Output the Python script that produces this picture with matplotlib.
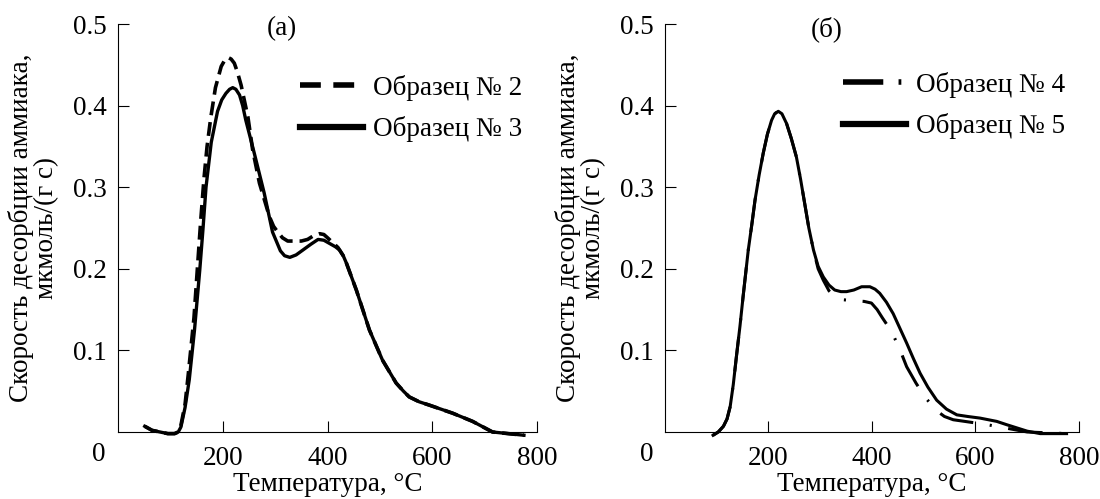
import matplotlib
matplotlib.use("Agg")
from matplotlib import pyplot as plt
from matplotlib.lines import Line2D

plt.rcParams['font.family'] = ['Liberation Serif', 'DejaVu Serif']
plt.rcParams['font.size'] = 19.5
plt.rcParams['lines.scale_dashes'] = False

# (а) samples 2 and 3
t2 = [51, 65, 80, 95, 108, 115, 120, 128, 134, 145, 152, 158, 164, 170, 177, 186, 197, 204, 210, 216,
      222, 228, 235, 248, 257, 270, 289, 297, 305, 314, 324, 350, 362, 372, 385, 393, 400, 410, 420,
      430, 436, 455, 480, 505, 531, 545, 556, 575, 594, 639, 677, 715, 775]
r2 = [0.007, 0.002, 0.0, -0.002, -0.002, 0.0, 0.008, 0.034, 0.070, 0.140, 0.205, 0.260, 0.310, 0.350,
      0.385, 0.422, 0.448, 0.456, 0.459, 0.457, 0.452, 0.441, 0.425, 0.386, 0.346, 0.305, 0.264, 0.252,
      0.245, 0.238, 0.234, 0.234, 0.236, 0.240, 0.243, 0.242, 0.238, 0.232, 0.226, 0.216, 0.207, 0.174,
      0.125, 0.088, 0.060, 0.050, 0.043, 0.037, 0.033, 0.023, 0.013, 0.000, -0.004]

t3 = [51, 65, 80, 95, 108, 115, 120, 128, 136, 146, 156, 162, 168, 178, 190, 198, 206, 213, 219, 225,
      232, 238, 244, 260, 279, 295, 310, 318, 328, 340, 353, 368, 382, 393, 404, 415, 423, 430, 436,
      455, 480, 505, 531, 545, 556, 575, 594, 639, 677, 715, 775]
r3 = [0.007, 0.002, 0.0, -0.002, -0.002, 0.0, 0.006, 0.030, 0.064, 0.125, 0.198, 0.247, 0.300, 0.355,
      0.393, 0.407, 0.415, 0.420, 0.422, 0.420, 0.413, 0.400, 0.382, 0.342, 0.293, 0.245, 0.222, 0.216,
      0.214, 0.217, 0.223, 0.230, 0.236, 0.235, 0.231, 0.227, 0.223, 0.216, 0.207, 0.174, 0.125, 0.088,
      0.060, 0.050, 0.043, 0.037, 0.033, 0.023, 0.013, 0.000, -0.004]

# (б) samples 4 and 5
t4 = [93, 103, 113, 120, 126, 132, 138, 145, 151, 161, 168, 174, 182, 190, 198, 206, 212, 219, 226,
      235, 244, 254, 262, 270, 278, 287, 296, 306, 317, 328, 345, 364, 385, 399, 410, 420, 438, 454,
      467, 485, 502, 525, 540, 557, 590, 622, 657, 700, 776]
r4 = [-0.004, 0.0, 0.007, 0.016, 0.031, 0.058, 0.092, 0.130, 0.166, 0.223, 0.255, 0.284, 0.315, 0.342,
      0.365, 0.382, 0.390, 0.393, 0.390, 0.378, 0.360, 0.337, 0.310, 0.280, 0.250, 0.223, 0.200, 0.186,
      0.173, 0.166, 0.162, 0.161, 0.160, 0.158, 0.150, 0.140, 0.123, 0.101, 0.080, 0.060, 0.043, 0.026,
      0.019, 0.015, 0.012, 0.009, 0.005, 0.0, -0.002]

t5 = [93, 103, 113, 120, 126, 132, 138, 145, 151, 161, 168, 174, 182, 190, 198, 206, 212, 219, 226,
      235, 244, 254, 262, 270, 278, 287, 296, 306, 317, 328, 340, 351, 365, 380, 396, 406, 415, 428,
      441, 454, 467, 480, 493, 508, 525, 544, 564, 585, 609, 641, 660, 680, 700, 725, 776]
r5 = [-0.004, 0.0, 0.007, 0.016, 0.031, 0.058, 0.092, 0.130, 0.166, 0.223, 0.255, 0.284, 0.315, 0.342,
      0.365, 0.382, 0.390, 0.393, 0.390, 0.378, 0.360, 0.337, 0.310, 0.280, 0.250, 0.223, 0.203, 0.190,
      0.180, 0.174, 0.172, 0.172, 0.174, 0.178, 0.178, 0.175, 0.170, 0.159, 0.145, 0.127, 0.109, 0.090,
      0.072, 0.055, 0.039, 0.028, 0.021, 0.019, 0.017, 0.013, 0.009, 0.005, 0.001, -0.002, -0.002]

xticks = [200, 400, 600, 800]
yticks = [0.1, 0.2, 0.3, 0.4, 0.5]
ylabel = 'Скорость десорбции аммиака,\nмкмоль/(г с)'
xlabel = 'Температура, °C'

dash = (0, (10, 5))
dashdot = (0, (25, 12, 1.5, 12))

fig = plt.figure(figsize=(11, 4.99), dpi=100)
ax1 = fig.add_axes([0.1073, 0.1343, 0.3809, 0.8176])
ax2 = fig.add_axes([0.6045, 0.1343, 0.3764, 0.8176])

line_kw = dict(color='black', clip_on=False, solid_joinstyle='round', dash_joinstyle='round')
ax1.plot(t2, r2, lw=2.6, linestyle=dash, **line_kw)
ax1.plot(t3, r3, lw=2.4, **line_kw)
ax2.plot(t4, r4, lw=2.2, linestyle=dashdot, **line_kw)
ax2.plot(t5, r5, lw=2.2, **line_kw)

h1 = [Line2D([], [], color='black', lw=4, linestyle=(0, (15, 9))),
      Line2D([], [], color='black', lw=4.5)]
h2 = [Line2D([], [], color='black', lw=4, linestyle=(0, (29, 11, 2, 30))),
      Line2D([], [], color='black', lw=4.5)]
leg_kw = dict(loc='upper left', frameon=False, handlelength=2.33, handletextpad=0.37,
              labelspacing=0.58, borderaxespad=0, borderpad=0)
ax1.legend(h1, ['Образец № 2', 'Образец № 3'], bbox_to_anchor=(0.434, 0.876), **leg_kw)
ax2.legend(h2, ['Образец № 4', 'Образец № 5'], bbox_to_anchor=(0.43, 0.883), **leg_kw)

for ax, tag in [(ax1, '(а)'), (ax2, '(б)')]:
    ax.set_xlim(0, 800)
    ax.set_ylim(0, 0.5)
    ax.set_xticks(xticks)
    ax.set_yticks(yticks)
    ax.set_yticklabels([f'{v:.1f}' for v in yticks])
    ax.tick_params(direction='in', length=8, width=0.8, pad=8)
    ax.tick_params(axis='x', pad=10)
    ax.spines['top'].set_visible(False)
    ax.spines['right'].set_visible(False)
    for s in ('left', 'bottom'):
        ax.spines[s].set_linewidth(0.8)
    ax.set_xlabel(xlabel, labelpad=1)
    ax.set_ylabel(ylabel, labelpad=10, linespacing=1.0)
    ax.text(313, 0.494, tag, ha='center', va='center')
    ax.text(-0.045, -0.055, '0', transform=ax.transAxes, ha='center', va='center')

fig.savefig('out.png', dpi=100)
